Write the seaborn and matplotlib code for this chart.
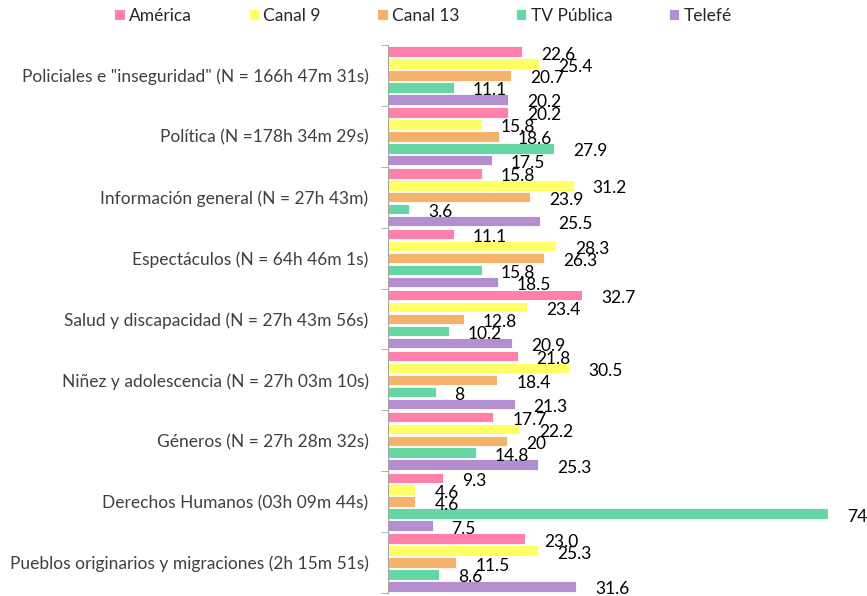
import matplotlib
matplotlib.use("Agg")
import matplotlib.pyplot as plt
import seaborn as sns
import pandas as pd

# datos (porcentaje por canal en cada tema)
temas = [
    'Policiales e "inseguridad" (N = 166h 47m 31s)',
    'Política (N =178h 34m 29s)',
    'Información general (N = 27h 43m)',
    'Espectáculos (N = 64h 46m 1s)',
    'Salud y discapacidad (N = 27h 43m 56s)',
    'Niñez y adolescencia (N = 27h 03m 10s)',
    'Géneros (N = 27h 28m 32s)',
    'Derechos Humanos (03h 09m 44s)',
    'Pueblos originarios y migraciones (2h 15m 51s)',
]
canales = ["América", "Canal 9", "Canal 13", "TV Pública", "Telefé"]

america = ["22.6", "20.2", "15.8", "11.1", "32.7", "21.8", "17.7", "9.3", "23.0"]
canal9 = ["25.4", "15.8", "31.2", "28.3", "23.4", "30.5", "22.2", "4.6", "25.3"]
canal13 = ["20.7", "18.6", "23.9", "26.3", "12.8", "18.4", "20", "4.6", "11.5"]
tv_publica = ["11.1", "27.9", "3.6", "15.8", "10.2", "8", "14.8", "74", "8.6"]
telefe = ["20.2", "17.5", "25.5", "18.5", "20.9", "21.3", "25.3", "7.5", "31.6"]

colores = ["#FF80AB", "#FFFF66", "#F5B26B", "#66D6A4", "#B48FCF"]

series = [america, canal9, canal13, tv_publica, telefe]
filas = []
for canal, vals in zip(canales, series):
    for tema, v in zip(temas, vals):
        filas.append({"tema": tema, "canal": canal, "valor": float(v), "txt": v})
df = pd.DataFrame(filas)

sns.set_style("white")
plt.rcParams["font.family"] = ["Lato", "DejaVu Sans"]

fig = plt.figure(figsize=(8.67, 5.96), dpi=100)
ax = fig.add_axes([388 / 867, 3 / 596, 440 / 867, 548 / 596])

sns.barplot(data=df, y="tema", x="valor", hue="canal", orient="h",
            palette=colores, saturation=1, width=0.98, gap=0.12, ax=ax,
            edgecolor="white", linewidth=0.6, errorbar=None)

# etiquetas de valor
for canal, cont in zip(canales, ax.containers):
    sub = df[df["canal"] == canal]
    for bar, txt in zip(cont, sub["txt"]):
        ax.annotate(txt, (bar.get_width(), bar.get_y() + bar.get_height() / 2),
                    xytext=(19, -3), textcoords="offset pixels",
                    va="center", ha="left", fontsize=12.5, color="black")

handles, labels = ax.get_legend_handles_labels()
ax.get_legend().remove()
fig.legend(handles, labels, loc="center", bbox_to_anchor=(0.488, 0.973),
           ncol=5, frameon=False, fontsize=12.5, handlelength=0.6,
           handleheight=0.6, handletextpad=0.25, columnspacing=3.25,
           labelcolor="#262626")

ax.set_xlim(0, 74)
ax.set_ylim(8.5, -0.5)
ax.set_xlabel("")
ax.set_ylabel("")
ax.set_xticks([])
for s in ["top", "right", "bottom"]:
    ax.spines[s].set_visible(False)
ax.spines["left"].set_color("#a6a6a6")
ax.set_yticks([i - 0.5 for i in range(10)], minor=True)
ax.tick_params(axis="y", which="major", length=0, pad=14, labelsize=12.5,
               labelcolor="#404040")
ax.tick_params(axis="y", which="minor", length=5, color="#a6a6a6", left=True)

fig.savefig("out.png", dpi=100)
